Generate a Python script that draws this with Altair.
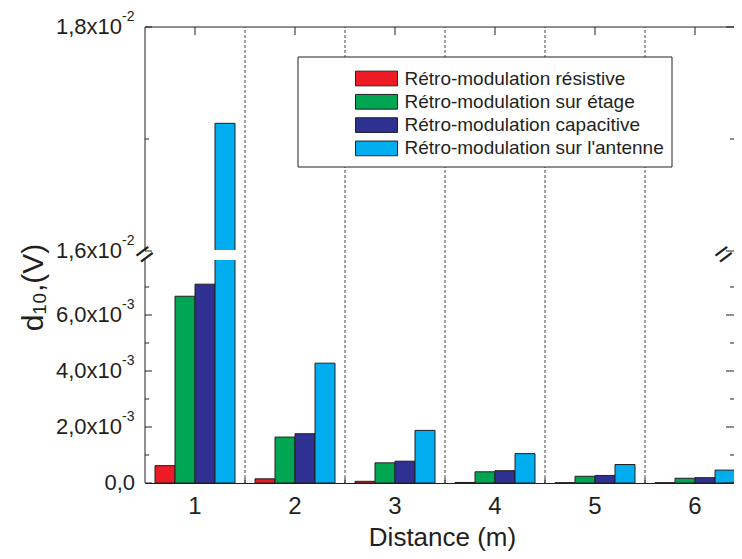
import altair as alt
import pandas as pd

# ---------------- data ----------------
distances = [1, 2, 3, 4, 5, 6]
series = [
    "Rétro-modulation résistive",
    "Rétro-modulation sur étage",
    "Rétro-modulation capacitive",
    "Rétro-modulation sur l'antenne",
]
colors = ["#ED1C24", "#00A651", "#2E3192", "#00AEEF"]
resistive = [0.62e-3, 0.15e-3, 0.06e-3, 0.02e-3, 0.01e-3, 0.01e-3]
etage = [6.67e-3, 1.64e-3, 0.72e-3, 0.40e-3, 0.24e-3, 0.17e-3]
capacitive = [7.10e-3, 1.76e-3, 0.78e-3, 0.44e-3, 0.27e-3, 0.19e-3]
antenne = [1.714e-2, 4.28e-3, 1.88e-3, 1.05e-3, 0.66e-3, 0.46e-3]

major_ticks = [0, 2e-3, 4e-3, 6e-3, 1.6e-2, 1.8e-2]
tick_mantissa = ["0,0", "2,0x10", "4,0x10", "6,0x10", "1,6x10", "1,8x10"]
tick_exponent = ["", "-3", "-3", "-3", "-2", "-2"]
minor_ticks = [1e-3, 3e-3, 5e-3, 7e-3, 1.7e-2]
break_low, break_high, y_top = 8e-3, 1.6e-2, 1.8e-2

# ---------------- layout constants ----------------
W, H = 589, 456          # visible plot area (the frame continues past the right edge)
BAND_SPAN = 600          # six 100-px category bands
FONT = "Liberation Sans, Arial, Helvetica, sans-serif"
INK = "#231F20"

rows = []
for name, vals in zip(series, [resistive, etage, capacitive, antenne]):
    for d, v in zip(distances, vals):
        rows.append({"dist": d, "series": name, "value": v})
bars_df = pd.DataFrame(rows)
gap_df = bars_df[bars_df["value"] > break_high]

ticks_df = pd.DataFrame({"val": major_ticks, "mant": tick_mantissa, "exp": tick_exponent})
minor_df = pd.DataFrame({"val": minor_ticks})
bound_df = pd.DataFrame({"dist": distances[1:]})
center_df = pd.DataFrame({"dist": distances})
seg_df = pd.DataFrame({"lo": [0, break_high], "hi": [break_low, y_top]})
one = pd.DataFrame({"k": [0]})

x_scale = alt.Scale(type="band", paddingInner=0, paddingOuter=0, domain=distances,
                    range=[0, BAND_SPAN])
y_scale = alt.Scale(domain=[0, break_low, break_high, y_top],
                    range=[H, 232, 224, 0], nice=False, zero=False)
off_scale = alt.Scale(domain=series, paddingInner=0, paddingOuter=0.5)

x_axis = alt.Axis(title="Distance (m)", labelAngle=0, labelFontSize=24, labelFont=FONT,
                  labelColor=INK, labelPadding=11, ticks=False, tickSize=0,
                  domain=True, domainColor=INK, domainWidth=1, grid=False,
                  titleFontSize=26, titleFont=FONT, titleFontWeight="normal",
                  titleColor=INK, titleX=297, titleY=62, titleBaseline="alphabetic")
y_axis = alt.Axis(title="d₁₀,(V)", labels=False, ticks=False, domain=False, grid=False,
                  titleX=-112, titleY=260, titleFontSize=30, titleFont=FONT,
                  titleFontWeight="normal", titleColor=INK, titleAngle=270,
                  titleAlign="center", titleBaseline="middle")

xf = lambda **kw: alt.X("dist:O", scale=x_scale, axis=x_axis, **kw)
yf = lambda f: alt.Y(f, scale=y_scale, axis=y_axis)

bars = alt.Chart(bars_df).mark_bar(stroke=INK, strokeWidth=1, opacity=1).encode(
    x=xf(),
    xOffset=alt.XOffset("series:N", sort=series, scale=off_scale),
    y=yf("value:Q"),
    color=alt.Color("series:N", sort=series, scale=alt.Scale(domain=series, range=colors),
                    legend=alt.Legend(orient="none", legendX=220.5, legendY=40.5, title=None,
                                      symbolType="M-2,-0.7L2,-0.7L2,0.7L-2,0.7Z",
                                      symbolSize=441, symbolStrokeColor=INK,
                                      symbolStrokeWidth=1, symbolOpacity=1,
                                      labelFontSize=19, labelFont=FONT, labelColor=INK,
                                      labelLimit=400, labelOffset=17, rowPadding=2.3,
                                      padding=0)),
)

gap = alt.Chart(gap_df).mark_bar(fill="white", stroke="white", strokeWidth=2).encode(
    x=xf(),
    xOffset=alt.XOffset("series:N", sort=series, scale=off_scale),
    y=alt.datum(break_low), y2=alt.datum(break_high),
)

# dotted separators
dotted = alt.Chart(bound_df).mark_rule(color="#444", strokeDash=[3, 2], strokeWidth=1).encode(
    x=xf(bandPosition=0), y=alt.datum(0), y2=alt.datum(y_top)
)

# legend box
legend_box = alt.Chart(one).mark_rect(fill="white", stroke=INK, strokeWidth=1).encode(
    x=alt.value(153), x2=alt.value(527), y=alt.value(30), y2=alt.value(140)
)

# axis frame lines
left_line = alt.Chart(seg_df).mark_rule(color=INK, strokeWidth=1).encode(
    x=alt.value(0), y=yf("lo:Q"), y2="hi:Q"
)
top_line = alt.Chart(one).mark_rule(color=INK, strokeWidth=1).encode(
    x=alt.value(0), x2=alt.value(W), y=alt.datum(y_top)
)

# ticks
lmaj = alt.Chart(ticks_df).mark_rule(color=INK).encode(
    x=alt.value(0), x2=alt.value(7), y=yf("val:Q"))
lmin = alt.Chart(minor_df).mark_rule(color=INK).encode(
    x=alt.value(0), x2=alt.value(4), y=yf("val:Q"))
rmaj = alt.Chart(ticks_df).mark_rule(color=INK).encode(
    x=alt.value(W - 8), x2=alt.value(W), y=yf("val:Q"))
rmin = alt.Chart(minor_df).mark_rule(color=INK).encode(
    x=alt.value(W - 4), x2=alt.value(W), y=yf("val:Q"))
top_ticks = alt.Chart(center_df).mark_rule(color=INK).encode(
    x=xf(), y=alt.datum(y_top), y2=alt.value(8))
bot_ticks = alt.Chart(bound_df).mark_rule(color=INK).encode(
    x=xf(bandPosition=0), y=alt.datum(0), y2=alt.value(H - 5))

# y tick labels with superscript exponents
lab_main = alt.Chart(ticks_df[ticks_df["exp"] != ""]).mark_text(
    align="right", baseline="middle", fontSize=22, font=FONT, color=INK).encode(
    x=alt.value(-23), y=yf("val:Q"), text="mant:N")
lab_zero = alt.Chart(ticks_df[ticks_df["exp"] == ""]).mark_text(
    align="right", baseline="middle", fontSize=22, font=FONT, color=INK).encode(
    x=alt.value(-10), y=yf("val:Q"), text="mant:N")
lab_exp = alt.Chart(ticks_df[ticks_df["exp"] != ""]).mark_text(
    align="left", baseline="middle", fontSize=14, font=FONT, color=INK, dy=-10).encode(
    x=alt.value(-23), y=yf("val:Q"), text="exp:N")

# axis break marks
brk_l = alt.Chart(one).mark_text(text="=", fontSize=30, font=FONT, color=INK, angle=323,
                                 align="center", baseline="middle").encode(
    x=alt.value(0), y=alt.datum((break_low + break_high) / 2))
brk_r = alt.Chart(one).mark_text(text="=", fontSize=30, font=FONT, color=INK, angle=323,
                                 align="center", baseline="middle").encode(
    x=alt.value(W - 10), y=alt.datum((break_low + break_high) / 2))

chart = alt.layer(
    bars, gap, dotted, legend_box, left_line, top_line,
    lmaj, lmin, rmaj, rmin, top_ticks, bot_ticks,
    lab_main, lab_zero, lab_exp, brk_l, brk_r,
).properties(
    width=W, height=H,
    autosize=alt.AutoSizeParams(type="none"),
    padding={"left": 137, "top": 19, "right": 0, "bottom": 68},
).configure_view(stroke=None)

chart.save("out.html", embed_options={"renderer": "svg", "actions": False})
